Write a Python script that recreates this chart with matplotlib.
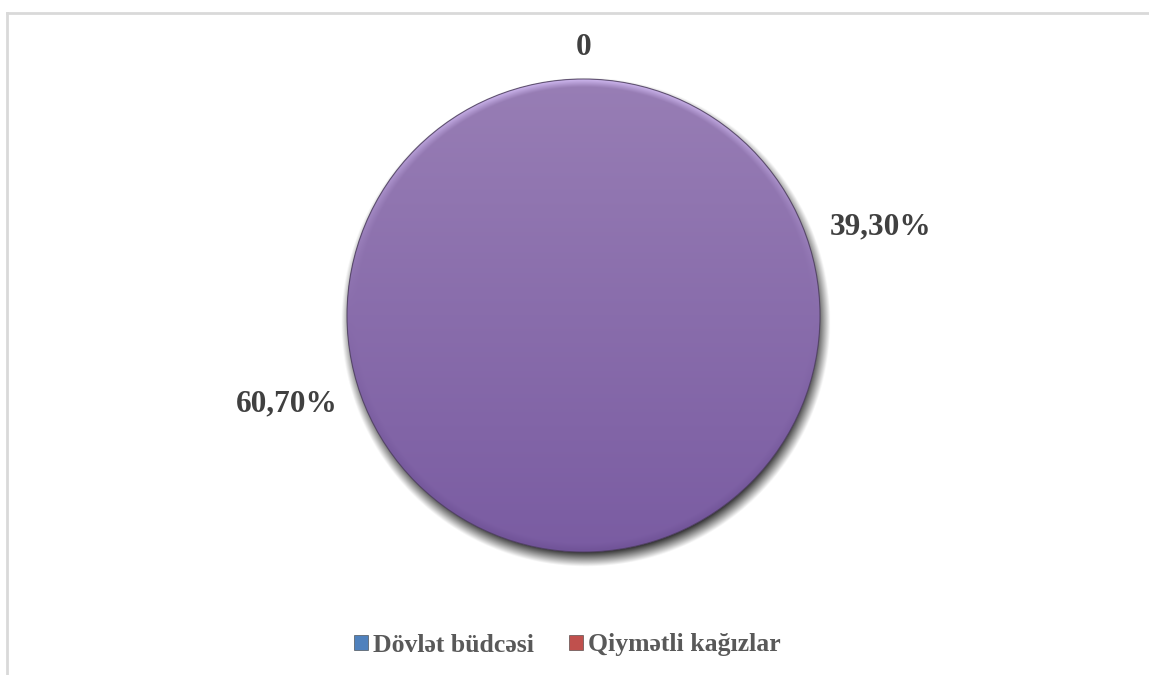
import numpy as np
import matplotlib
matplotlib.use("Agg")
import matplotlib.pyplot as plt
from matplotlib.patches import Patch, Circle
from matplotlib.lines import Line2D

# ── data ─────────────────────────────────────────────────────────────────────
categories = ["Dövlət büdcəsi", "Qiymətli kağızlar"]
shares = [60.70, 39.30]
share_labels = ["60,70%", "39,30%"]
extra_label = "0"
legend_colors = ["#4f81bd", "#c0504d"]

FONT = ["Liberation Serif", "DejaVu Serif"]
LABEL_COLOR = "#404040"
LEGEND_TEXT = "#595959"
START = 90.0

fig = plt.figure(figsize=(11.49, 6.75), dpi=100)
fig.patch.set_facecolor("white")

# one data unit == pie radius (236.5 px) on both axes
R_PX = 236.5
W_PX, H_PX = 1149, 675
cx_px, cy_px = 583.5, 675 - 315.5
ax_w = 2 * 2.4 * R_PX
ax_h = 2 * 1.3 * R_PX
ax = fig.add_axes([(cx_px - ax_w / 2) / W_PX, (cy_px - ax_h / 2) / H_PX,
                   ax_w / W_PX, ax_h / H_PX])

# ── pie ──────────────────────────────────────────────────────────────────────
wedges, _ = ax.pie(shares, colors=["#8a6bac"] * len(shares), startangle=START,
                   counterclock=True, radius=1.0, center=(0, 0),
                   wedgeprops=dict(linewidth=0), frame=True)
ax.set_xlim(-2.4, 2.4)
ax.set_ylim(-1.3, 1.3)
ax.set_aspect("auto")
ax.axis("off")
for w in wedges:
    w.set_zorder(2)

# soft drop shadow below the disc
n = 600
gx = np.linspace(-1.2, 1.2, n)
GX, GY = np.meshgrid(gx, gx)
d_sh = np.hypot(GX - 0.008, GY + 0.03)
blur = 0.035
sh_alpha = np.clip((1.0 + blur - d_sh) / (2 * blur), 0, 1) * 0.9
shadow = np.zeros((n, n, 4))
shadow[..., 3] = sh_alpha
ax.imshow(shadow, extent=(-1.2, 1.2, -1.2, 1.2), origin="lower",
          interpolation="bilinear", zorder=1)

# vertical gradient with a bevelled rim, clipped to the disc
top = np.array([0x98, 0x7e, 0xb5]) / 255
bot = np.array([0x7a, 0x5c, 0xa2]) / 255
t = ((GY + 1) / 2)[..., None]
rgb = bot + (top - bot) * np.clip(t, 0, 1)
d = np.hypot(GX, GY)
rim = np.clip((d - 0.965) / 0.03, 0, 1)[..., None]
up = np.clip(GY, 0, 1)[..., None]
dn = np.clip(-GY, 0, 1)[..., None]
light = np.array([0xcf, 0xb8, 0xf0]) / 255
dark = np.array([0x6c, 0x4f, 0x93]) / 255
rgb = rgb + (light - rgb) * rim * up ** 1.5 * 0.9
rgb = rgb + (dark - rgb) * rim * dn * 0.6
img = np.dstack([np.clip(rgb, 0, 1), np.ones((n, n))])
disc = Circle(wedges[0].center, wedges[0].r, transform=ax.transData)
im = ax.imshow(img, extent=(-1.2, 1.2, -1.2, 1.2), origin="lower",
               interpolation="bilinear", zorder=3)
im.set_clip_path(disc)

ax.add_patch(Circle((0, 0), 1.0, facecolor="none", edgecolor="#4a3d5a",
                    linewidth=0.8, alpha=0.8, zorder=4))

# ── data labels ──────────────────────────────────────────────────────────────
def label_xy(deg):
    a = np.deg2rad(deg)
    return 1.33 * np.cos(a), 1.135 * np.sin(a)

angle = START
total = sum(shares)
for val, lab in zip(shares, share_labels):
    x, y = label_xy(angle + 360 * val / total / 2)
    angle += 360 * val / total
    ax.text(x, y, lab, ha="center", va="center", fontsize=22.5,
            fontweight="bold", family=FONT, color=LABEL_COLOR, zorder=5)
x, y = label_xy(START)
ax.text(x, y, extra_label, ha="center", va="center", fontsize=22.5,
        fontweight="bold", family=FONT, color=LABEL_COLOR, zorder=5)

# ── legend ───────────────────────────────────────────────────────────────────
handles = [Patch(facecolor=c, edgecolor="#3a3a3a", linewidth=0.4)
           for c in legend_colors]
leg = fig.legend(handles, categories, loc="center", ncol=2,
                 bbox_to_anchor=(0.494, 1 - 645 / H_PX), frameon=False,
                 handlelength=0.55, handleheight=0.55, handletextpad=0.2,
                 columnspacing=1.35,
                 prop={"family": FONT, "weight": "bold", "size": 18.5})
for txt in leg.get_texts():
    txt.set_color(LEGEND_TEXT)

# ── chart-area border (left and top only visible) ────────────────────────────
fig.add_artist(Line2D([6.5 / W_PX, 6.5 / W_PX], [0, 1 - 12.5 / H_PX],
                      transform=fig.transFigure, color="#d9d9d9", linewidth=2))
fig.add_artist(Line2D([6.5 / W_PX, 1], [1 - 13 / H_PX, 1 - 13 / H_PX],
                      transform=fig.transFigure, color="#d9d9d9", linewidth=2))

fig.savefig("out.png", dpi=100, facecolor="white")
